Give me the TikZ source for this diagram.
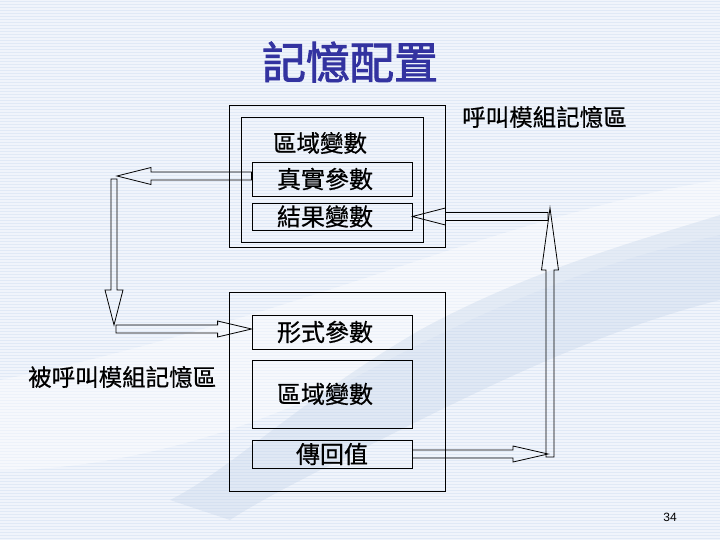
\documentclass[tikz,border=0pt]{standalone}
\usepackage{fontspec}
\setmainfont{Liberation Sans}
\newfontfamily\cjk[FakeBold=0.6]{Noto Sans CJK TC}
\newfontfamily\cjktitle[FakeBold=2]{Noto Sans CJK TC}
\usetikzlibrary{calc}
\definecolor{bgA}{RGB}{240,244,251}
\definecolor{bgB}{RGB}{224,233,246}
\definecolor{wmark}{RGB}{196,212,232}
\definecolor{titleblue}{RGB}{51,51,160}
\newcommand\hollowarr[5]{%
  \path ($(#2)!#5!(#1)$) coordinate (hb);
  \draw[conn] ($(#1)!#3!90:(#2)$) -- ($(hb)!#3!90:(#2)$) -- ($(hb)!#4!90:(#2)$)
    -- (#2) -- ($(hb)!#4!-90:(#2)$) -- ($(hb)!#3!-90:(#2)$) -- ($(#1)!#3!-90:(#2)$) -- cycle;}
\newcommand\lft{\hspace*{-14pt}}
\begin{document}
\begin{tikzpicture}[x=1pt,y=-1pt,
  box/.style={draw=black, line width=0.8pt, inner sep=0pt, font=\cjk\fontsize{24}{26}\selectfont},
  frame/.style={draw=black, line width=0.8pt, inner sep=0pt},
  conn/.style={draw=black, line width=0.8pt, line join=miter},
  captxt/.style={font=\cjk\fontsize{23.5}{26}\selectfont, inner sep=0pt}]
\useasboundingbox (0,0) rectangle (720,540);
\fill[bgA] (0,0) rectangle (720,540);
\foreach \yy in {1.5,4.5,...,540} {\draw[bgB, line width=1.4pt] (0,\yy) -- (720,\yy);}
% faint watermark swoosh
\fill[white, opacity=0.45] (0,380) .. controls (150,350) and (300,300) .. (450,250)
   .. controls (560,215) and (650,190) .. (720,180) -- (720,235)
   .. controls (600,260) and (480,310) .. (350,380) .. controls (250,430) and (120,470) .. (0,470) -- cycle;
\fill[wmark, opacity=0.35] (170,500) .. controls (230,470) and (300,400) .. (420,330)
   .. controls (530,270) and (640,240) .. (720,215) -- (720,300)
   .. controls (600,330) and (480,390) .. (380,440) .. controls (320,470) and (260,500) .. (230,520) -- cycle;
% title
\node[font=\cjktitle\fontsize{44}{48}\selectfont, text=titleblue, inner sep=0pt] (title) at (350,62) {記憶配置};
% caller module
\node[frame, minimum width=216pt, minimum height=142pt] (callerOuter) at (337,176) {};
\node[frame, minimum width=182pt, minimum height=125pt] (callerInner) at (332,179.5) {};
\node[captxt] (localTop) at (320,143) {區域變數};
\node[box, minimum width=160pt, minimum height=34pt] (zhen) at (332,179) {\lft 真實參數};
\node[box, minimum width=160pt, minimum height=27pt] (jie) at (332,216.5) {\lft 結果變數};
\node[captxt, anchor=west] (callerLbl) at (462,117) {呼叫模組記憶區};
% callee module
\node[frame, minimum width=216pt, minimum height=199pt] (calleeOuter) at (337,391.5) {};
\node[box, minimum width=160pt, minimum height=34pt] (xing) at (332,332) {\lft 形式參數};
\node[box, minimum width=160pt, minimum height=68pt] (qu) at (332,394) {\lft 區域變數};
\node[box, minimum width=160pt, minimum height=28pt] (chuan) at (332,454) {傳回值};
\node[captxt, anchor=west] (calleeLbl) at (28,377) {被呼叫模組記憶區};
% page number
\node[font=\fontsize{12}{14}\selectfont, inner sep=0pt] (pg) at (670,517) {34};
% connectors
\coordinate (a1s) at ($(zhen.west)+(0,-3)$);
\coordinate (a1t) at (117,176);
\coordinate (a2s) at (114,179);
\coordinate (a2t) at (114,325);
\coordinate (a3s) at (116,329);
\coordinate (a3t) at ($(xing.west)+(0,-3)$);
\coordinate (a4s) at (chuan.east);
\coordinate (a4t) at (548,454);
\coordinate (a5s) at (550,457);
\coordinate (a5t) at (550,208);
\coordinate (a6s) at (548,216.5);
\coordinate (a6t) at (jie.east);
\hollowarr{a1s}{a1t}{4pt}{8.5pt}{34pt}
\hollowarr{a2s}{a2t}{3pt}{9pt}{35pt}
\hollowarr{a3s}{a3t}{4pt}{8pt}{34pt}
\hollowarr{a4s}{a4t}{4pt}{8pt}{35pt}
\hollowarr{a5s}{a5t}{4pt}{8.5pt}{62pt}
\hollowarr{a6s}{a6t}{4pt}{8.5pt}{33pt}
\end{tikzpicture}
\end{document}
